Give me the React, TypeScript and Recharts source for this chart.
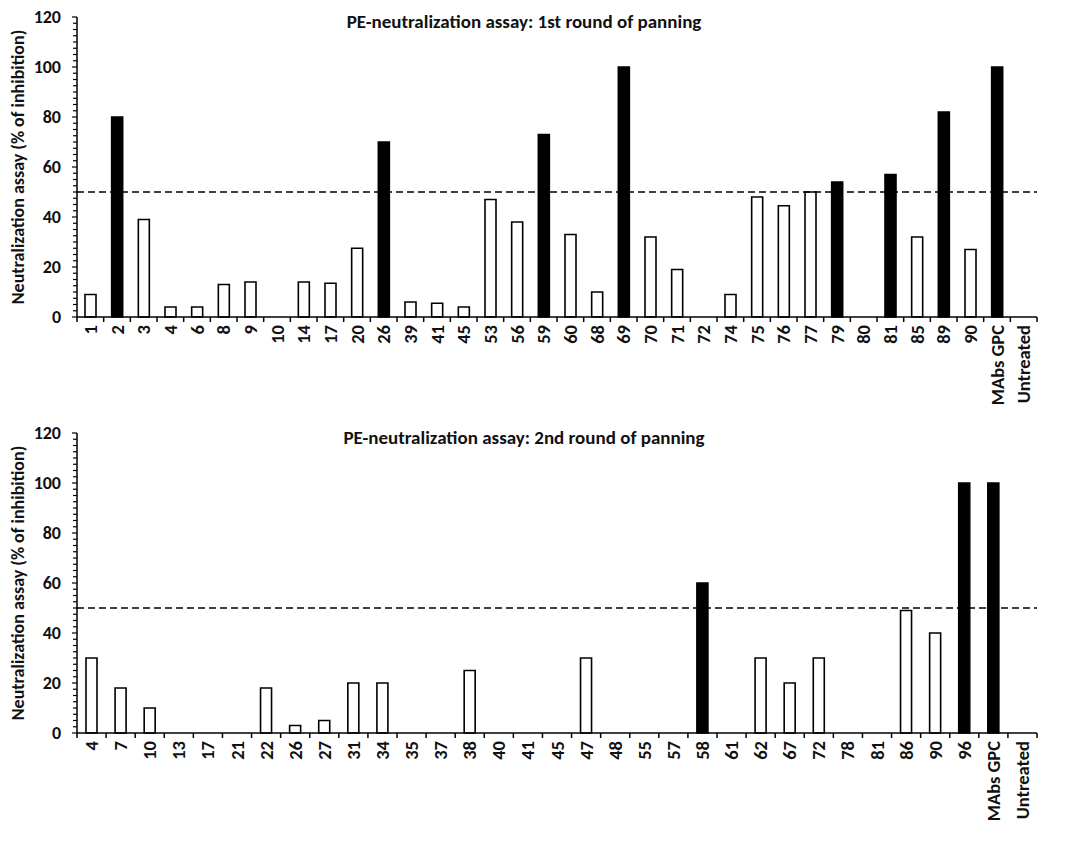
import { BarChart, Bar, XAxis, YAxis, Cell, ReferenceLine, Label } from "recharts";

const FONT = "Carlito, Calibri, Lato, sans-serif";

// 1st round of panning
const round1Clones = [
  "1", "2", "3", "4", "6", "8", "9", "10", "14", "17", "20", "26", "39", "41", "45", "53", "56", "59",
  "60", "68", "69", "70", "71", "72", "74", "75", "76", "77", "79", "80", "81", "85", "89", "90",
  "MAbs GPC", "Untreated",
];
const round1Values = [
  9, 80, 39, 4, 4, 13, 14, 0, 14, 13.5, 27.5, 70, 6, 5.5, 4, 47, 38, 73,
  33, 10, 100, 32, 19, 0, 9, 48, 44.5, 50, 54, 0, 57, 32, 82, 27,
  100, 0,
];
const round1Positive = ["2", "26", "59", "69", "79", "81", "89", "MAbs GPC"];

// 2nd round of panning
const round2Clones = [
  "4", "7", "10", "13", "17", "21", "22", "26", "27", "31", "34", "35", "37", "38", "40", "41", "45",
  "47", "48", "55", "57", "58", "61", "62", "67", "72", "78", "81", "86", "90", "96",
  "MAbs GPC", "Untreated",
];
const round2Values = [
  30, 18, 10, 0, 0, 0, 18, 3, 5, 20, 20, 0, 0, 25, 0, 0, 0,
  30, 0, 0, 0, 60, 0, 30, 20, 30, 0, 0, 49, 40, 100,
  100, 0,
];
const round2Positive = ["58", "96", "MAbs GPC"];

const majorTicks = [0, 20, 40, 60, 80, 100, 120];
const minorStep = 2.5;
const threshold = 50;

const yTicks: number[] = [];
for (let v = 0; v <= 120; v += minorStep) yTicks.push(v);

const PLOT_LEFT = 77;
const PLOT_RIGHT = 1037;

function makeData(names: string[], values: number[], positive: string[]) {
  return names.map((name, i) => ({ name, value: values[i], hit: positive.includes(name) }));
}

function makeXTick(band: number, last: string) {
  return (props: any) => {
    const { x, y, payload } = props;
    const ly = y + 8;
    return (
      <g>
        <line x1={x - band / 2} y1={y} x2={x - band / 2} y2={y + 5} stroke="#000" strokeWidth={1.5} />
        {payload.value === last && (
          <line x1={x + band / 2} y1={y} x2={x + band / 2} y2={y + 5} stroke="#000" strokeWidth={1.5} />
        )}
        <text
          x={x}
          y={ly}
          transform={`rotate(-90 ${x} ${ly})`}
          textAnchor="end"
          dominantBaseline="central"
          fontFamily={FONT}
          fontWeight="bold"
          fontSize={18.5}
          fill="#111"
        >
          {payload.value}
        </text>
      </g>
    );
  };
}

function YTick(props: any) {
  const { x, y, payload } = props;
  const major = majorTicks.includes(payload.value);
  return (
    <g>
      <line x1={x - (major ? 5 : 4)} y1={y} x2={x} y2={y} stroke="#000" strokeWidth={1.2} />
      {major && (
        <text
          x={x - 16}
          y={y}
          textAnchor="end"
          dominantBaseline="central"
          fontFamily={FONT}
          fontWeight="bold"
          fontSize={18}
          fill="#111"
        >
          {payload.value}
        </text>
      )}
    </g>
  );
}

function YLabel(props: any) {
  const vb = props.viewBox;
  const cy = vb.y + vb.height / 2;
  return (
    <text
      x={18}
      y={cy}
      transform={`rotate(-90 18 ${cy})`}
      textAnchor="middle"
      dominantBaseline="central"
      fontFamily={FONT}
      fontWeight="bold"
      fontSize={18}
      fill="#111"
    >
      Neutralization assay (% of inhibition)
    </text>
  );
}

interface PanelProps {
  title: string;
  names: string[];
  values: number[];
  positive: string[];
  top: number;
  height: number;
}

function Panel({ title, names, values, positive, top, height }: PanelProps) {
  const data = makeData(names, values, positive);
  const band = (PLOT_RIGHT - PLOT_LEFT) / names.length;
  const XTick = makeXTick(band, names[names.length - 1]);
  return (
    <div style={{ position: "absolute", left: 0, top, width: 1081, height }}>
      <BarChart
        width={1081}
        height={height}
        data={data}
        margin={{ top: 17, right: 1081 - PLOT_RIGHT, left: 0, bottom: 0 }}
      >
        <XAxis
          dataKey="name"
          interval={0}
          tickLine={false}
          tickSize={0}
          tickMargin={0}
          height={height - 317}
          axisLine={{ stroke: "#000", strokeWidth: 1.5 }}
          tick={XTick}
        />
        <YAxis
          width={PLOT_LEFT}
          domain={[0, 120]}
          ticks={yTicks}
          interval={0}
          tickLine={false}
          tickSize={0}
          tickMargin={0}
          axisLine={{ stroke: "#000", strokeWidth: 1.5 }}
          tick={YTick}
        >
          <Label content={YLabel} />
        </YAxis>
        <Bar dataKey="value" barSize={11} stroke="#000" strokeWidth={1.6} isAnimationActive={false}>
          {data.map((d) => (
            <Cell key={d.name} fill={d.hit ? "#000" : "#fff"} />
          ))}
        </Bar>
        <ReferenceLine y={threshold} stroke="#000" strokeWidth={1.5} strokeDasharray="7 4" />
      </BarChart>
      <div
        style={{
          position: "absolute",
          left: 224,
          width: 600,
          top: 10,
          textAlign: "center",
          fontFamily: FONT,
          fontWeight: "bold",
          fontSize: 19,
          color: "#111",
          lineHeight: "24px",
        }}
      >
        {title}
      </div>
    </div>
  );
}

export default function App() {
  return (
    <div style={{ position: "absolute", left: 0, top: 0, width: 1081, height: 847, background: "#fff" }}>
      <Panel
        title="PE-neutralization assay: 1st round of panning"
        names={round1Clones}
        values={round1Values}
        positive={round1Positive}
        top={0}
        height={416}
      />
      <Panel
        title="PE-neutralization assay: 2nd round of panning"
        names={round2Clones}
        values={round2Values}
        positive={round2Positive}
        top={416}
        height={431}
      />
    </div>
  );
}
